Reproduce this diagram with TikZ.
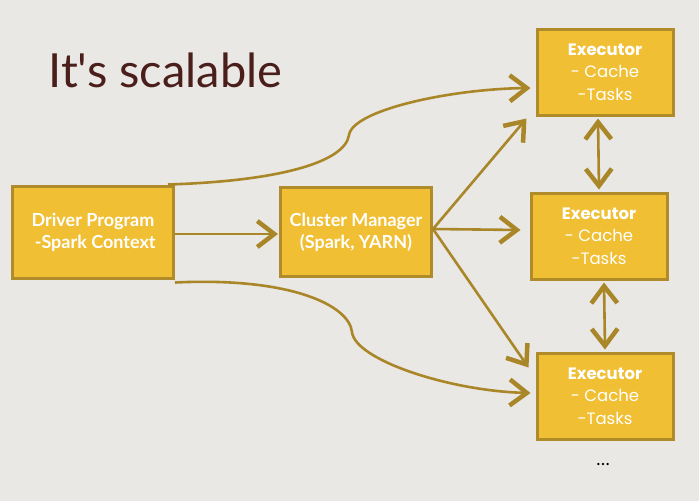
\documentclass[tikz,border=0pt]{standalone}
\usepackage{fontspec}
\setmainfont{Lato}
\newfontfamily\execfont{Poppins}
\newfontfamily\titlefont{Lato}[Ligatures=TeXOff]
\usetikzlibrary{arrows.meta}
\definecolor{slidebg}{HTML}{EAE8E5}
\definecolor{boxfill}{HTML}{F0BF33}
\definecolor{boxline}{HTML}{B08B2A}
\definecolor{arrowcol}{HTML}{A98627}
\definecolor{titlecol}{HTML}{4A1E1A}
\tikzset{
  procbox/.style={draw=boxline,fill=boxfill,line width=3pt,inner sep=0pt,
    text=white,align=center,font=\bfseries\fontsize{18}{22}\selectfont},
  execbox/.style={procbox,minimum width=136pt,minimum height=86pt,
    font=\execfont\fontsize{16.5}{22.5}\selectfont},
  link/.style={draw=arrowcol,line width=2.6pt,-{Straight Barb[length=17pt,width=26pt,line width=4.5pt]}},
  twolink/.style={link,{Straight Barb[length=17pt,width=26pt,line width=4.5pt]}-{Straight Barb[length=17pt,width=26pt,line width=4.5pt]}}
}
\newcommand{\execlines}{{\bfseries Executor}\\- Cache\\-Tasks}
\begin{document}
\begin{tikzpicture}[x=1pt,y=-1pt]
\fill[slidebg] (0,0) rectangle (699,501);
\useasboundingbox (0,0) rectangle (699,501);
\node[anchor=base west,text=titlecol,font=\titlefont\fontsize{47}{56}\selectfont] (title) at (45,87) {It's scalable};
% boxes
\node[procbox,minimum width=161pt,minimum height=92pt] (driver) at (93,232) {Driver Program\\ \ -Spark Context};
\node[procbox,minimum width=151pt,minimum height=89pt] (cluster) at (356,232) {Cluster Manager\\(Spark, YARN)};
\node[execbox] (exec1) at (605,72) {\execlines};
\node[execbox] (exec2) at (599,236) {\execlines};
\node[execbox] (exec3) at (605,396) {\execlines};
\node[font=\fontsize{18}{20}\selectfont] (dots) at (603,464) {\dots};
% bends of the long curves
\coordinate (upbend) at (349,135);
\coordinate (lowbend) at (352,332);
\coordinate (cm) at ([yshift=3pt]cluster.east);
% arrows
\draw[link] (driver.east |- 0,234) -- ([xshift=-1pt]cluster.west |- 0,234);
\draw[link] ([xshift=-7pt]driver.north east) .. controls (280,181) and (345,162) .. (upbend)
  .. controls (353,110) and (450,89) .. ([xshift=-5pt,yshift=-16pt]exec1.west);
\draw[link] ([yshift=-3pt]driver.south east) .. controls (290,277) and (349,305) .. (lowbend)
  .. controls (355,360) and (450,391) .. ([xshift=-5pt,yshift=3pt]exec3.west);
\draw[link] (cm) -- ([xshift=-9pt,yshift=-2pt]exec1.south west);
\draw[link] (cm) -- ([xshift=-9pt,yshift=6pt]exec2.west);
\draw[link] (cm) -- ([xshift=-7pt,yshift=-16pt]exec3.north west);
\draw[twolink] ([xshift=-7pt,yshift=-2pt]exec1.south) -- ([yshift=2pt]exec2.north);
\draw[twolink] ([xshift=5pt,yshift=-2pt]exec2.south) -- ([yshift=2pt]exec3.north);
\end{tikzpicture}
\end{document}
